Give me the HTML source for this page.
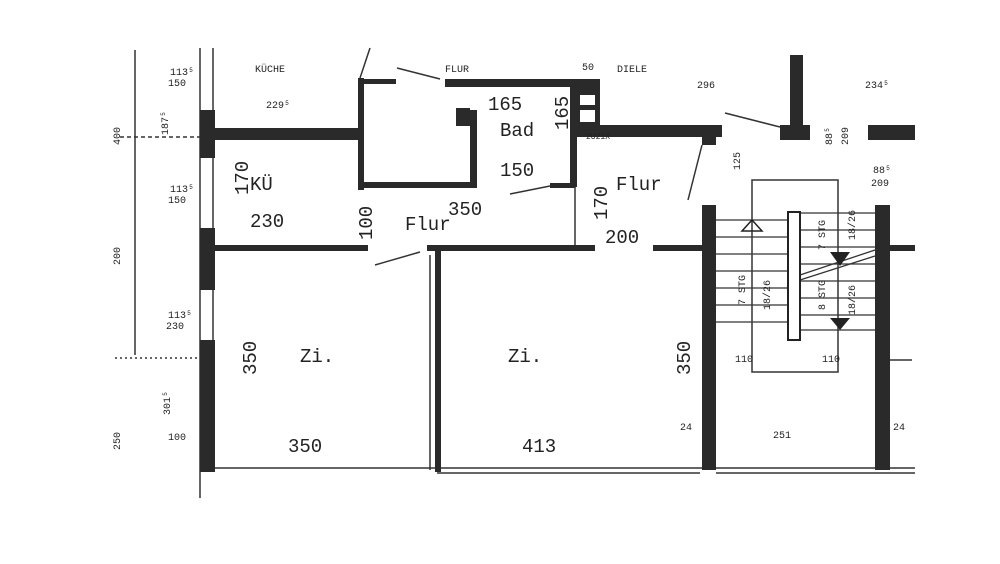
<!DOCTYPE html>
<html><head><meta charset="utf-8"><style>
html,body{margin:0;padding:0;background:#fff}
svg{display:block}
text{font-family:"Liberation Mono",monospace;fill:#222}
.h{font-family:"Liberation Sans",sans-serif;font-size:10px}
</style></head><body>
<svg width="1000" height="564" viewBox="0 0 1000 564" xmlns="http://www.w3.org/2000/svg">
<rect width="1000" height="564" fill="#fff"/>
<g stroke="#333" fill="none" stroke-width="1.5">
<line x1="135" y1="50" x2="135" y2="355"/>
<line x1="115" y1="358" x2="200" y2="358" stroke-dasharray="2,3"/>
<line x1="120" y1="137" x2="200" y2="137" stroke-dasharray="4,3"/>
<line x1="200" y1="48" x2="200" y2="498"/>
<line x1="213" y1="48" x2="213" y2="110"/>
<line x1="213" y1="158" x2="213" y2="228"/>
<line x1="213" y1="290" x2="213" y2="340"/>
<line x1="215" y1="468" x2="915" y2="468"/>
<line x1="437" y1="473" x2="700" y2="473"/>
<line x1="716" y1="473" x2="915" y2="473"/>
<line x1="370" y1="48" x2="360" y2="78"/>
<line x1="397" y1="68" x2="440" y2="79"/>
<line x1="510" y1="194" x2="550" y2="186"/>
<line x1="375" y1="265" x2="420" y2="252"/>
<line x1="725" y1="113" x2="780" y2="127"/>
<line x1="702" y1="145" x2="688" y2="200"/>
<line x1="575" y1="137" x2="575" y2="246"/>
<line x1="430" y1="255" x2="430" y2="470"/>
<rect x="752" y="180" width="86" height="192"/>
<line x1="880" y1="360" x2="912" y2="360"/>
</g>
<g fill="#2a2a2a">
<rect x="200" y="110" width="15" height="48"/>
<rect x="200" y="228" width="15" height="62"/>
<rect x="200" y="340" width="15" height="132"/>
<rect x="213" y="128" width="150" height="12"/>
<rect x="358" y="78" width="6" height="112"/>
<rect x="358" y="79" width="38" height="5"/>
<rect x="360" y="182" width="115" height="6"/>
<rect x="470" y="110" width="7" height="78"/>
<rect x="456" y="108" width="14" height="18"/>
<rect x="445" y="79" width="155" height="8"/>
<rect x="570" y="79" width="30" height="50"/>
<rect x="570" y="79" width="7" height="108"/>
<rect x="575" y="125" width="147" height="12"/>
<rect x="702" y="130" width="14" height="15"/>
<rect x="550" y="183" width="25" height="5"/>
<rect x="215" y="245" width="153" height="6"/>
<rect x="427" y="245" width="168" height="6"/>
<rect x="653" y="245" width="52" height="6"/>
<rect x="435" y="250" width="6" height="222"/>
<rect x="702" y="205" width="14" height="265"/>
<rect x="875" y="205" width="15" height="265"/>
<rect x="790" y="55" width="13" height="80"/>
<rect x="780" y="125" width="30" height="15"/>
<rect x="868" y="125" width="47" height="15"/>
<rect x="890" y="245" width="25" height="6"/>
</g>
<g fill="#fff"><rect x="580" y="95" width="15" height="10"/><rect x="580" y="110" width="15" height="12"/></g>
<g stroke="#333" stroke-width="1.3">
<line x1="716" y1="220" x2="788" y2="220"/><line x1="716" y1="237" x2="788" y2="237"/>
<line x1="716" y1="254" x2="788" y2="254"/><line x1="716" y1="271" x2="788" y2="271"/>
<line x1="716" y1="288" x2="788" y2="288"/><line x1="716" y1="305" x2="788" y2="305"/>
<line x1="716" y1="322" x2="788" y2="322"/>
<line x1="800" y1="213" x2="875" y2="213"/><line x1="800" y1="230" x2="875" y2="230"/>
<line x1="800" y1="247" x2="875" y2="247"/><line x1="800" y1="264" x2="875" y2="264"/>
<line x1="800" y1="281" x2="875" y2="281"/><line x1="800" y1="298" x2="875" y2="298"/>
<line x1="800" y1="315" x2="875" y2="315"/><line x1="800" y1="330" x2="875" y2="330"/>
<line x1="800" y1="275" x2="875" y2="250"/><line x1="800" y1="280" x2="875" y2="256"/>
</g>
<rect x="788" y="212" width="12" height="128" fill="#fff" stroke="#222" stroke-width="2"/>
<path d="M742 231 L762 231 L752 220 Z" fill="none" stroke="#222" stroke-width="1.5"/>
<path d="M830 252 L850 252 L840 266 Z" fill="#222"/>
<path d="M830 318 L850 318 L840 330 Z" fill="#222"/>
<g font-size="19">
<text x="488" y="110">165</text><text x="500" y="136">Bad</text><text x="500" y="176">150</text>
<text x="250" y="190">KÜ</text><text x="250" y="227">230</text>
<text x="405" y="230">Flur</text><text x="448" y="215">350</text>
<text x="616" y="190">Flur</text><text x="605" y="243">200</text>
<text x="300" y="362">Zi.</text><text x="508" y="362">Zi.</text>
<text x="288" y="452">350</text><text x="522" y="452">413</text>
<text transform="translate(248 195) rotate(-90)">170</text>
<text transform="translate(607 220) rotate(-90)">170</text>
<text transform="translate(568 130) rotate(-90)">165</text>
<text transform="translate(372 240) rotate(-90)">100</text>
<text transform="translate(256 375) rotate(-90)">350</text>
<text transform="translate(690 375) rotate(-90)">350</text>
</g>
<g class="h">
<text x="255" y="72">KÜCHE</text><text x="445" y="72">FLUR</text><text x="617" y="72">DIELE</text>
<text x="266" y="108">229⁵</text><text x="697" y="88">296</text><text x="865" y="88">234⁵</text>
<text x="170" y="75">113⁵</text><text x="168" y="86">150</text>
<text x="170" y="192">113⁵</text><text x="168" y="203">150</text>
<text x="168" y="318">113⁵</text><text x="166" y="329">230</text>
<text x="168" y="440">100</text><text x="773" y="438">251</text>
<text x="680" y="430">24</text><text x="893" y="430">24</text>
<text x="735" y="362">110</text><text x="822" y="362">110</text>
<text x="873" y="173">88⁵</text><text x="871" y="186">209</text>
<text x="582" y="70">50</text><text x="586" y="139" font-size="8">2U21X</text>
<text transform="translate(120 145) rotate(-90)">400</text>
<text transform="translate(120 265) rotate(-90)">200</text>
<text transform="translate(120 450) rotate(-90)">250</text>
<text transform="translate(168 135) rotate(-90)">187⁵</text>
<text transform="translate(170 415) rotate(-90)">301⁵</text>
<text transform="translate(745 305) rotate(-90)">7 STG</text>
<text transform="translate(770 310) rotate(-90)">18/26</text>
<text transform="translate(825 310) rotate(-90)">8 STG</text>
<text transform="translate(825 250) rotate(-90)">7 STG</text>
<text transform="translate(855 240) rotate(-90)">18/26</text>
<text transform="translate(855 315) rotate(-90)">18/26</text>
<text transform="translate(832 145) rotate(-90)">88⁵</text>
<text transform="translate(848 145) rotate(-90)">209</text>
<text transform="translate(740 170) rotate(-90)">125</text>
</g>
</svg>
</body></html>
